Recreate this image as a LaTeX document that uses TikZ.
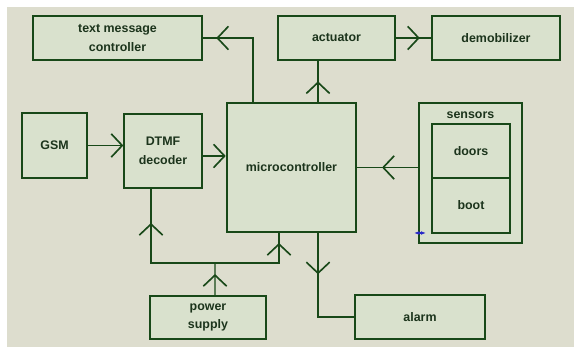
\documentclass[tikz,border=0pt]{standalone}
\usepackage{fontspec}
\setmainfont{Liberation Sans}
\usetikzlibrary{arrows.meta,decorations.markings}
\definecolor{panelbeige}{RGB}{221,221,206}
\definecolor{boxtint}{RGB}{217,225,205}
\definecolor{wiregreen}{RGB}{24,72,24}
\definecolor{inkgreen}{RGB}{28,52,28}
\definecolor{cursorblue}{RGB}{40,40,200}

\begin{document}
\begin{tikzpicture}[x=0.03cm, y=-0.03cm,
    >={Straight Barb[length=3.3mm,width=7mm,line width=1.4pt]},
    blk/.style={draw=wiregreen, fill=boxtint, line width=1.1pt, inner sep=0pt,
      align=center, text=inkgreen, font=\fontsize{10.6}{12}\selectfont\bfseries},
    mid/.style={blk, line width=1.6pt},
    heavy/.style={blk, line width=2.2pt},
    wire/.style={color=wiregreen, line width=1.2pt},
    flow/.style={wire, postaction={decorate},
      decoration={markings, mark=at position #1 with {\arrow{>}}}}]
  % the panel
  \useasboundingbox (0,0) rectangle (574,347);
  \fill[white] (0,0) rectangle (574,347);
  \fill[panelbeige] (7,7) rectangle (574,347);
  % the blocks
  \node[heavy, minimum width=5.07cm, minimum height=1.32cm] (txtctl) at (117.5,38) {text message\\[4pt]controller};
  \node[mid, minimum width=3.51cm, minimum height=1.32cm] (actuator) at (336.5,38) {actuator};
  \node[mid, minimum width=3.84cm, minimum height=1.32cm] (demob) at (496,38) {demobilizer};
  \node[blk, minimum width=1.95cm, minimum height=1.95cm] (gsm) at (54.5,145.5) {GSM};
  \node[blk, minimum width=2.34cm, minimum height=2.22cm] (dtmf) at (163,151) {DTMF\\[4pt]decoder};
  \node[heavy, minimum width=3.87cm, minimum height=3.87cm] (micro) at (291.5,167.5) {microcontroller};
  \node[mid, minimum width=3.48cm, minimum height=1.29cm] (power) at (208,317.5) {power\\[4pt]supply};
  \node[mid, minimum width=3.9cm, minimum height=1.32cm] (alarm) at (420,317) {alarm};
  % the sensors group
  \node[heavy, minimum width=3.09cm, minimum height=4.2cm] (sensors) at (470.5,173) {};
  \node[text=inkgreen, font=\fontsize{10.6}{12}\selectfont\bfseries] (senstitle) at (470.5,115) {sensors};
  \node[mid, minimum width=2.34cm, minimum height=1.62cm] (doors) at (471,151) {doors};
  \node[mid, minimum width=2.34cm, minimum height=1.65cm] (boot) at (471,205.5) {boot};
  % outputs of the microcontroller
  \coordinate (mtop) at ([xshift=0.795cm]micro.north);
  \draw[flow=-0.39cm] ([xshift=-1.155cm]micro.north) |- (txtctl.east);
  \draw[flow=0.5] (mtop) -- (mtop |- actuator.south);
  \draw[flow=0.68, line width=2pt] (actuator.east) -- (demob.west);
  \coordinate (mbotr) at ([xshift=0.795cm]micro.south);
  \draw[flow=1.23cm] (mbotr) |- (alarm.west);
  % inputs
  \draw[wire, ->] (gsm.east) -- (gsm.east -| dtmf.west);
  \coordinate (dout) at ([yshift=-0.15cm]dtmf.east);
  \draw[wire, ->] (dout) -- (dout -| micro.west);
  \draw[flow=0.59] (sensors.west |- micro.east) -- (micro.east);
  % the supply lines
  \coordinate (pj) at (215,263);
  \coordinate (dbot) at ([xshift=-0.36cm]dtmf.south);
  \coordinate (mbotl) at ([xshift=-0.375cm]micro.south);
  \draw[flow=0.63cm] ([xshift=0.21cm]power.north) -- (pj);
  \draw[flow=3.12cm] (pj) -| (dbot);
  \draw[flow=2.52cm] (pj) -| (mbotl);
  % cursor mark
  \draw[cursorblue, line width=1.2pt, {Latex[length=1.5mm]}-{Latex[length=1.5mm]}] (414,233) -- (426,233);
\end{tikzpicture}
\end{document}
